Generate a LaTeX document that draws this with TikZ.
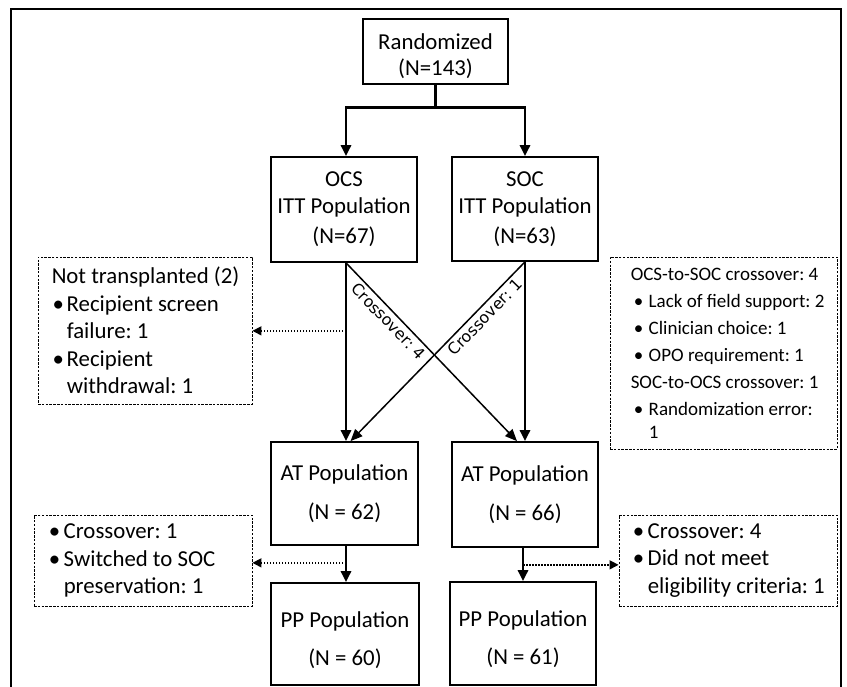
\documentclass[tikz,border=0pt]{standalone}
\usepackage{fontspec}
\setmainfont{Carlito}
\newfontfamily\dejavu{DejaVu Sans}
\usetikzlibrary{arrows.meta,calc}
\frenchspacing
\newcommand\bl{\makebox[11pt][l]{•}}
\newcommand\blr{\makebox[15pt][l]{•}}
\begin{document}
\begin{tikzpicture}[x=1pt,y=-1pt,
  sbox/.style={draw, line width=1.7pt, inner sep=0pt, align=center,
    font=\fontsize{22.8}{27}\selectfont},
  dbox/.style={draw, line width=0.9pt, dash pattern=on 2.5pt off 1.3pt, inner sep=0pt},
  dtext/.style={anchor=west, align=left, inner sep=0pt},
  bigfont/.style={font=\fontsize{22.8}{27.5}\selectfont},
  smallfont/.style={font=\fontsize{19}{27}\selectfont},
  thickarrow/.style={line width=2.8pt, -{Triangle[length=11pt,width=10pt]}},
  thinarrow/.style={line width=1.5pt, -{Triangle[length=12pt,width=10pt]}},
  dotarrow/.style={line width=1.5pt, dash pattern=on 1.5pt off 1.5pt,
    -{Triangle[length=9pt,width=9pt]}},
  xlabel/.style={sloped, below, inner sep=3pt, font=\dejavu\fontsize{15.8}{18}\selectfont}
]
\useasboundingbox (0,0) rectangle (847,687);
% outer frame
\draw[line width=1.8pt] (11,700) -- (11,9) -- (841,9) -- (841,700);

% main boxes
\node[sbox, minimum width=145pt, minimum height=65pt] (rand) at (435.5,51.5) {\rule{0pt}{26pt}Randomized\\[-1pt](N=143)};
\node[sbox, minimum width=146pt, minimum height=105pt] (ocs) at (344,209.5) {OCS\\ITT Population\\[3pt](N=67)};
\node[sbox, minimum width=146pt, minimum height=104pt] (soc) at (525,209) {SOC\\ITT Population\\[3pt](N=63)};
\node[sbox, minimum width=147pt, minimum height=103pt] (at1) at (344.5,493.5) {AT Population\\[12pt](N = 62)};
\node[sbox, minimum width=146pt, minimum height=105pt] (at2) at (525,494.5) {AT Population\\[12pt](N = 66)};
\node[sbox, minimum width=148pt, minimum height=102pt] (pp1) at (345,634) {\rule{0pt}{28pt}PP Population\\[11pt](N = 60)};
\node[sbox, minimum width=146pt, minimum height=103pt] (pp2) at (523,633.5) {\rule{0pt}{28pt}PP Population\\[11pt](N = 61)};

% dashed boxes
\node[dbox, minimum width=214pt, minimum height=147pt] (nt) at (145,330.5) {};
\node[dtext, bigfont] (ntt) at ($(nt.west)+(14,0)$)
  {Not transplanted (2)\\
   \hspace*{1pt}\bl\hspace*{3pt}Recipient screen\\
   \hspace*{15pt}failure: 1\\
   \hspace*{1pt}\bl\hspace*{3pt}Recipient\\
   \hspace*{15pt}withdrawal: 1};
\node[dbox, minimum width=227pt, minimum height=192pt] (cx) at (723.5,353) {};
\node[dtext, smallfont] (cxt) at ($(cx.west)+(21,0)$)
  {OCS-to-SOC crossover: 4\\
   \hspace*{3pt}\blr Lack of field support: 2\\
   \hspace*{3pt}\blr Clinician choice: 1\\
   \hspace*{3pt}\blr OPO requirement: 1\\
   SOC-to-OCS crossover: 1\\
   \hspace*{3pt}\blr Randomization error:\\[-4pt]
   \hspace*{18pt}1};
\node[dbox, minimum width=218pt, minimum height=91pt] (lb) at (143,560.5) {};
\node[dtext, bigfont] (lbt) at ($(lb.west)+(15,0)$)
  {\bl\hspace*{4pt}Crossover: 1\\
   \bl\hspace*{4pt}Switched to SOC\\
   \hspace*{15pt}preservation: 1};
\node[dbox, minimum width=218pt, minimum height=91pt] (rb) at (728,560.5) {};
\node[dtext, bigfont] (rbt) at ($(rb.west)+(14,0)$)
  {\bl\hspace*{4pt}Crossover: 4\\
   \bl\hspace*{4pt}Did not meet\\
   \hspace*{15pt}eligibility criteria: 1};

% randomization split
\coordinate (split) at ($(rand.south)+(0,23)$);
\draw[line width=2.8pt] (rand.south) -- (split);
\draw[thickarrow] (split) -| ($(ocs.north)+(2,0)$);
\draw[thickarrow] (split) -| (soc.north);

% ITT to AT
\draw[thickarrow] ($(ocs.south)+(2,0)$) -- ($(at1.north)+(1.5,0)$);
\draw[thickarrow] (soc.south) -- (at2.north);
\draw[thinarrow] ($(ocs.south)+(2,0)$) -- node[xlabel, pos=0.29] {Crossover: 4} ($(at2.north)+(-8,0)$);
\draw[thinarrow] (soc.south) -- node[xlabel, pos=0.27] {Crossover: 1} ($(at1.north)+(6,0)$);

% not transplanted
\coordinate (d1) at ($(ocs.south)+(2,68)$);
\draw[dotarrow] (d1) -- (d1 -| nt.east);

% AT to PP
\draw[thickarrow] ($(at1.south)+(1.5,0)$) -- ($(pp1.north)+(1,0)$);
\draw[thickarrow] ($(at2.south)+(-2,0)$) -- ($(pp2.north)+(0,0)$);
\coordinate (d2) at ($(at1.south)+(1.5,17)$);
\draw[dotarrow] (d2) -- (d2 -| lb.east);
\coordinate (d3) at ($(at2.south)+(-2,17)$);
\draw[dotarrow] (d3) -- (d3 -| rb.west);
\end{tikzpicture}
\end{document}
